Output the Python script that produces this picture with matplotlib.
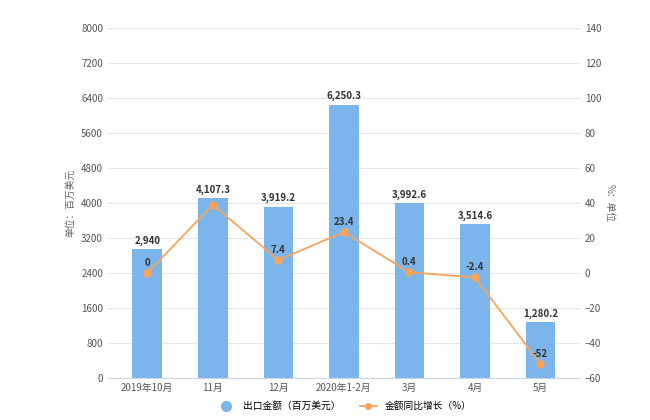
import matplotlib.pyplot as plt
import numpy as np

plt.rcParams['font.family'] = ['Noto Sans CJK SC', 'DejaVu Sans']

months = ["2019年10月", "11月", "12月", "2020年1-2月", "3月", "4月", "5月"]
export_value = [2940, 4107.3, 3919.2, 6250.3, 3992.6, 3514.6, 1280.2]
bar_labels = ["2,940", "4,107.3", "3,919.2", "6,250.3", "3,992.6", "3,514.6", "1,280.2"]
growth = [0, 39, 7.4, 23.4, 0.4, -2.4, -52]
growth_labels = ["0", "", "7.4", "23.4", "0.4", "-2.4", "-52"]

bar_color = "#7cb5ec"
line_color = "#f7a35c"

fig = plt.figure(figsize=(6.5, 4.2), dpi=100)
ax = fig.add_axes([0.166, 0.1, 0.726, 0.833])
x = np.arange(len(months))
ax.bar(x, export_value, width=0.45, color=bar_color, zorder=2)
ax.set_ylim(0, 8000)
ax.set_yticks(np.arange(0, 8001, 800))
ax.set_xlim(-0.6, 6.6)
ax.set_xticks(x)
ax.set_xticklabels(months)
ax.grid(axis="y", color="#e6e6e6", lw=0.8, zorder=0)
for s in ["top", "right", "left"]:
    ax.spines[s].set_visible(False)
ax.spines["bottom"].set_color("#ccd6eb")
ax.tick_params(axis="both", labelsize=7, colors="#555555", length=0)
ax.set_ylabel("单位：百万美元", fontsize=7, color="#666666")
for xi, v, t in zip(x, export_value, bar_labels):
    ax.text(xi, v + 80, t, ha="center", va="bottom", fontsize=7, fontweight="bold", color="#333333")

ax2 = ax.twinx()
ax2.plot(x, growth, color=line_color, marker="o", ms=5, lw=1.3, zorder=3)
ax2.set_ylim(-60, 140)
ax2.set_yticks(np.arange(-60, 141, 20))
for s in ["top", "right", "left", "bottom"]:
    ax2.spines[s].set_visible(False)
ax2.tick_params(axis="y", labelsize=7, colors="#555555", length=0)
ax2.set_ylabel("%：单位", fontsize=7, color="#666666", rotation=270, labelpad=10)
for xi, v, t in zip(x, growth, growth_labels):
    if t:
        ax2.text(xi, v + 3, t, ha="center", va="bottom", fontsize=7, fontweight="bold", color="#333333")

h1 = plt.Line2D([], [], marker="o", ls="", color=bar_color, ms=7)
h2 = plt.Line2D([], [], marker="o", color=line_color, ms=4, lw=1.3)
fig.legend([h1, h2], ["出口金额（百万美元）", "金额同比增长（%）"], loc="lower center",
           bbox_to_anchor=(0.53, 0.0), ncol=2, frameon=False, fontsize=7, handlelength=1.8)

fig.savefig("out.png")
